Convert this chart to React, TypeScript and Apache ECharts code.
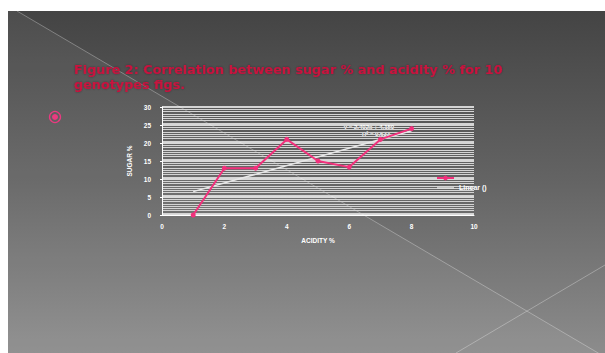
import React, { useEffect, useRef } from "react";
import * as echarts from "echarts";

const titleLines = [
  "Figure 2: Correlation between sugar % and acidity % for 10",
  "genotypes figs.",
];
const acidity = [1, 2, 3, 4, 5, 6, 7, 8];
const sugar = [0, 13, 13, 21, 15, 13.3, 21, 24];
const trendX = [1, 8];
const trendY = [6.5, 23.4];
const equationLines = ["y = 2.402x + 4.150", "R² = 0.633"];
const xTicks = { min: 0, max: 10, interval: 2 };
const yTicks = { min: 0, max: 30, interval: 5 };
const seriesNames = ["Sugar", "Linear ()"];

export default function App() {
  const ref = useRef<HTMLDivElement>(null);
  useEffect(() => {
    if (!ref.current) return;
    const chart = echarts.init(ref.current, null, { renderer: "svg" });
    const font = "Liberation Sans";
    chart.setOption({
      animation: false,
      backgroundColor: "#ffffff",
      title: {
        text: titleLines.join("\n"),
        left: 74,
        top: 62,
        padding: 0,
        textStyle: {
          fontFamily: "DejaVu Sans",
          fontSize: 12.8,
          fontWeight: "bold",
          color: "#c8123e",
          lineHeight: 15,
          textShadowColor: "rgba(0,0,0,0.35)",
          textShadowBlur: 2,
        },
      },
      graphic: [
        {
          type: "rect",
          z: -10,
          silent: true,
          shape: { x: 8, y: 11, width: 597, height: 342 },
          style: {
            fill: new echarts.graphic.LinearGradient(0, 0, 0, 1, [
              { offset: 0, color: "#444444" },
              { offset: 0.5, color: "#646464" },
              { offset: 1, color: "#8c8c8c" },
            ]),
          },
        },
        {
          type: "polygon",
          z: -9,
          silent: true,
          shape: { points: [[17, 11], [605, 357], [605, 353], [8, 353], [8, 11]] },
          style: { fill: "rgba(255,255,255,0.05)" },
        },
        {
          type: "line",
          z: -8,
          silent: true,
          shape: { x1: 17, y1: 11, x2: 605, y2: 357 },
          style: { stroke: "rgba(255,255,255,0.3)", lineWidth: 1 },
        },
        {
          type: "line",
          z: -8,
          silent: true,
          shape: { x1: 456, y1: 353, x2: 605, y2: 265 },
          style: { stroke: "rgba(255,255,255,0.3)", lineWidth: 1 },
        },
        {
          type: "circle",
          shape: { cx: 55, cy: 117, r: 5.5 },
          style: { fill: "none", stroke: "#ea3a80", lineWidth: 1.3 },
        },
        {
          type: "circle",
          shape: { cx: 55, cy: 117, r: 3 },
          style: { fill: "#ea3a80" },
        },
        {
          type: "text",
          x: 369,
          y: 127,
          style: {
            text: equationLines[0],
            fill: "#ffffff",
            font: `bold 6px "${font}"`,
            textAlign: "center",
            textVerticalAlign: "middle",
          },
        },
        {
          type: "text",
          x: 376,
          y: 134,
          style: {
            text: equationLines[1],
            fill: "#ffffff",
            font: `bold 6px "${font}"`,
            textAlign: "center",
            textVerticalAlign: "middle",
          },
        },
      ],
      legend: {
        orient: "vertical",
        left: 436,
        top: 175,
        padding: 0,
        itemGap: 4,
        itemWidth: 17,
        itemHeight: 6,
        data: [
          { name: seriesNames[0] },
          { name: seriesNames[1], icon: "path://M0,0 L17,0 L17,1.2 L0,1.2 Z" },
        ],
        formatter: (name: string) => (name === seriesNames[0] ? "" : name),
        textStyle: { color: "#ffffff", fontSize: 7, fontWeight: "bold", fontFamily: font },
      },
      grid: { left: 162, top: 107, width: 312, height: 108 },
      xAxis: {
        type: "value",
        min: xTicks.min,
        max: xTicks.max,
        interval: xTicks.interval,
        name: "ACIDITY %",
        nameLocation: "middle",
        nameGap: 22,
        nameTextStyle: { color: "#ffffff", fontSize: 6.5, fontWeight: "bold", fontFamily: font },
        axisLine: { show: true, lineStyle: { color: "#ffffff", width: 1 } },
        axisTick: { show: false },
        axisLabel: { color: "#ffffff", fontSize: 6.5, fontWeight: "bold", fontFamily: font, margin: 8 },
        splitLine: { show: false },
      },
      yAxis: {
        type: "value",
        min: yTicks.min,
        max: yTicks.max,
        interval: yTicks.interval,
        name: "SUGAR %",
        nameLocation: "middle",
        nameGap: 28,
        nameRotate: 90,
        nameTextStyle: { color: "#ffffff", fontSize: 6.5, fontWeight: "bold", fontFamily: font },
        axisLine: { show: true, lineStyle: { color: "#ffffff", width: 1 } },
        axisTick: { show: true, length: 2, lineStyle: { color: "#ffffff" } },
        axisLabel: { color: "#ffffff", fontSize: 6.5, fontWeight: "bold", fontFamily: font, margin: 11 },
        splitLine: { show: true, lineStyle: { color: "#ffffff", width: 1.5 } },
        minorTick: { show: false, splitNumber: 8 },
        minorSplitLine: { show: true, lineStyle: { color: "#d4d4d4", width: 1 } },
      },
      series: [
        {
          name: seriesNames[0],
          type: "line",
          data: acidity.map((x, i) => [x, sugar[i]]),
          color: "#f2307c",
          lineStyle: { width: 2, color: "#f2307c" },
          symbol: "circle",
          symbolSize: 5,
          itemStyle: { color: "#f2307c" },
          z: 5,
        },
        {
          name: seriesNames[1],
          type: "line",
          data: trendX.map((x, i) => [x, trendY[i]]),
          color: "#e8e8e8",
          lineStyle: { width: 1.5, color: "#e8e8e8" },
          symbol: "none",
          z: 4,
        },
      ],
    });
    return () => chart.dispose();
  }, []);
  return (
    <div
      ref={ref}
      style={{ position: "fixed", left: 0, top: 0, width: 605, height: 353 }}
    />
  );
}
